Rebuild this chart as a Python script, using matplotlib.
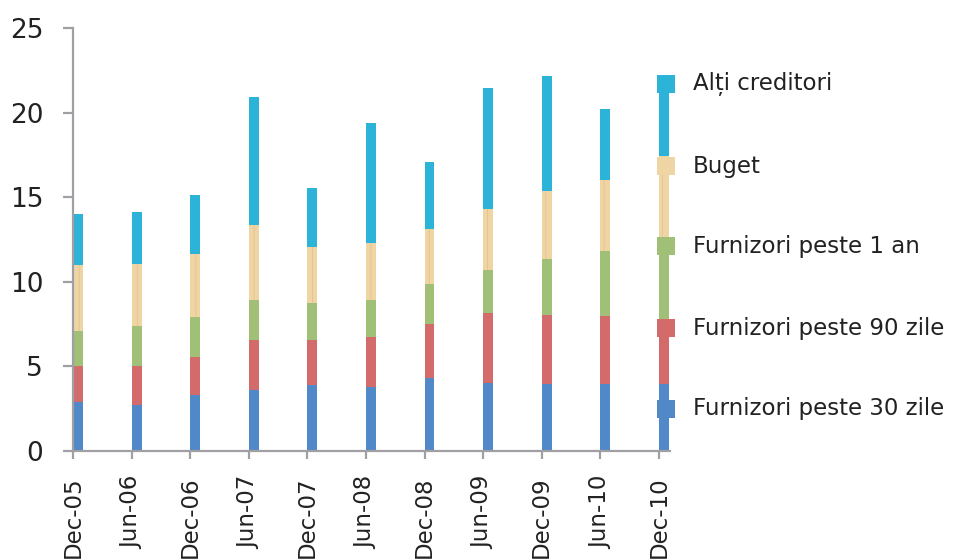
import matplotlib
matplotlib.use("Agg")
import matplotlib.pyplot as plt
from matplotlib.patches import Rectangle
from matplotlib import font_manager
import numpy as np

categories = ["Dec-05", "Jun-06", "Dec-06", "Jun-07", "Dec-07", "Jun-08",
              "Dec-08", "Jun-09", "Dec-09", "Jun-10", "Dec-10"]
furnizori_30 = [2.91, 2.70, 3.29, 3.61, 3.89, 3.77, 4.32, 4.02, 3.96, 3.96, 3.96]
furnizori_90 = [2.13, 2.33, 2.25, 2.94, 2.66, 2.95, 3.19, 4.14, 4.06, 4.02, 3.83]
furnizori_1an = [2.05, 2.36, 2.37, 2.36, 2.20, 2.19, 2.35, 2.54, 3.32, 3.85, 4.85]
buget = [3.90, 3.67, 3.72, 4.44, 3.32, 3.37, 3.27, 3.61, 4.04, 4.20, 4.79]
alti_creditori = [3.01, 3.06, 3.49, 7.57, 3.47, 7.10, 3.94, 7.14, 6.78, 4.18, 4.17]

series_names = ["Furnizori peste 30 zile", "Furnizori peste 90 zile",
                "Furnizori peste 1 an", "Buget", "Alți creditori"]
series_values = [furnizori_30, furnizori_90, furnizori_1an, buget, alti_creditori]
colors = ["#5088C8", "#D26B6A", "#A0C078", "#EFD5A3", "#2BB4D8"]

available = {f.name for f in font_manager.fontManager.ttflist}
ytick_family = "DejaVu Sans"
ytick_size = 19
for fam, size in [("Liberation Sans Narrow", 21), ("DejaVu Sans Condensed", 20.5)]:
    if fam in available:
        ytick_family, ytick_size = fam, size
        break

plt.rcParams["hatch.linewidth"] = 0.6

W, H = 956, 560
fig = plt.figure(figsize=(W / 100, H / 100), dpi=100)
ax = fig.add_axes([73 / W, 1 - 451 / H, (670 - 73) / W, (451 - 28) / H])

x = np.arange(len(categories))
bottom = np.zeros(len(categories))
for name, vals, col in zip(series_names, series_values, colors):
    v = np.array(vals)
    kw = {}
    if name == "Buget":
        kw = dict(hatch="||", edgecolor="#E2C48F", linewidth=0)
    ax.bar(x, v, width=0.17, bottom=bottom, align="edge", color=col, **kw)
    bottom += v

ax.set_xlim(0, 10.19)
ax.set_ylim(0, 25)
ax.set_yticks([0, 5, 10, 15, 20, 25])
ax.set_xticks(x)
ax.set_xticklabels(categories, rotation=90, fontsize=16.5, family="DejaVu Sans",
                   color="#222222")
for lab in ax.get_yticklabels():
    lab.set_fontsize(ytick_size)
    lab.set_family([ytick_family, "DejaVu Sans"])
    lab.set_color("#222222")

for s in ["top", "right"]:
    ax.spines[s].set_visible(False)
for s in ["left", "bottom"]:
    ax.spines[s].set_color("#A0A0A4")
    ax.spines[s].set_linewidth(1.6)
ax.tick_params(axis="y", length=7.5, width=1.6, color="#A0A0A4", pad=14)
ax.tick_params(axis="x", length=6, width=1.6, color="#A0A0A4", pad=12)

# legend drawn manually (top to bottom)
leg_y = [84, 166, 246, 328, 409]
for name, col, yc in zip(series_names[::-1], colors[::-1], leg_y):
    fig.add_artist(Rectangle((657 / W, 1 - (yc + 9) / H), 18 / W, 18 / H,
                             transform=fig.transFigure, facecolor=col,
                             edgecolor="none", zorder=5))
    fig.text(693 / W, 1 - yc / H, name, fontsize=16.5, family="DejaVu Sans",
             va="center", ha="left", color="#222222", zorder=6)

fig.savefig("out.png", dpi=100)
